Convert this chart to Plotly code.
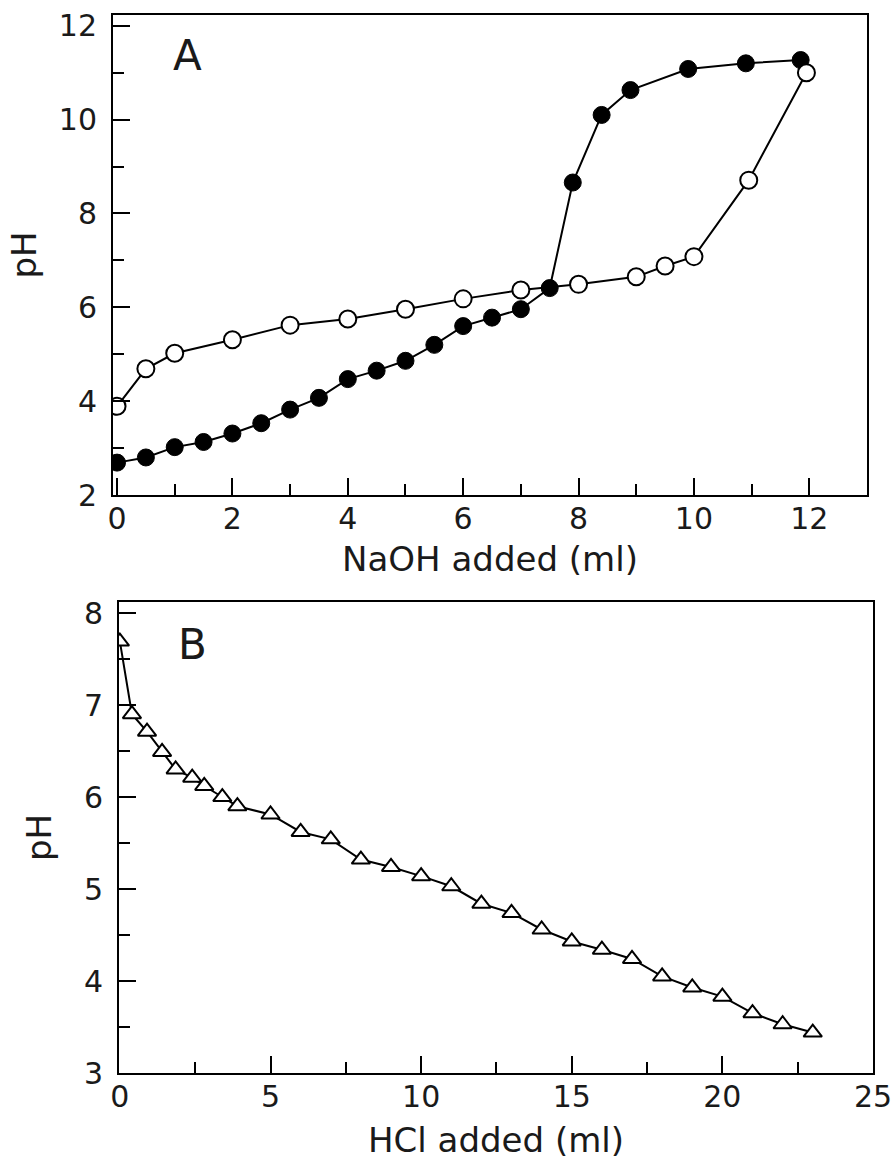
import plotly.graph_objects as go

# Panel A: NaOH titration
naoh_filled_x = [0, 0.5, 1, 1.5, 2, 2.5, 3, 3.5, 4, 4.5, 5, 5.5, 6, 6.5, 7, 7.5, 7.9, 8.4, 8.9, 9.9, 10.9, 11.85]
naoh_filled_ph = [2.69, 2.8, 3.02, 3.13, 3.31, 3.53, 3.82, 4.07, 4.47, 4.65, 4.86, 5.2, 5.6, 5.78, 5.96, 6.41, 8.66, 10.1, 10.63, 11.08, 11.2, 11.27]
naoh_open_x = [0, 0.5, 1, 2, 3, 4, 5, 6, 7, 8, 9, 9.5, 10, 10.95, 11.95]
naoh_open_ph = [3.89, 4.69, 5.02, 5.31, 5.62, 5.75, 5.96, 6.18, 6.37, 6.49, 6.65, 6.88, 7.08, 8.71, 11.0]

# Panel B: HCl titration
hcl_x = [0, 0.4, 0.9, 1.4, 1.85, 2.4, 2.8, 3.4, 3.9, 5, 6, 7, 8, 9, 10, 11, 12, 13, 14, 15, 16, 17, 18, 19, 20, 21, 22, 23]
hcl_ph = [7.69, 6.9, 6.71, 6.49, 6.3, 6.21, 6.12, 6.0, 5.9, 5.81, 5.62, 5.54, 5.32, 5.24, 5.14, 5.03, 4.84, 4.74, 4.56, 4.43, 4.34, 4.24, 4.05, 3.93, 3.83, 3.65, 3.53, 3.44]

W, H = 891, 1160
FONT = "DejaVu Sans"
TXT = "#1a1a1a"

fig = go.Figure()
fig.add_trace(go.Scatter(x=naoh_filled_x, y=naoh_filled_ph, mode="lines+markers", xaxis="x", yaxis="y",
                         line=dict(color="black", width=2),
                         marker=dict(symbol="circle", size=17, color="black", line=dict(color="black", width=1))))
fig.add_trace(go.Scatter(x=naoh_open_x, y=naoh_open_ph, mode="lines+markers", xaxis="x", yaxis="y",
                         line=dict(color="black", width=2),
                         marker=dict(symbol="circle", size=17, color="white", line=dict(color="black", width=2))))
fig.add_trace(go.Scatter(x=hcl_x, y=hcl_ph, mode="lines+markers", xaxis="x2", yaxis="y2",
                         line=dict(color="black", width=2),
                         marker=dict(symbol="triangle-up", size=16, color="white", line=dict(color="black", width=2))))

axis_common = dict(showline=True, linecolor="black", linewidth=2, mirror=True, ticks="inside",
                   tickcolor="black", tickwidth=2, ticklen=17, showgrid=False, zeroline=False,
                   automargin=False, ticklabeloverflow="allow",
                   tickfont=dict(family=FONT, size=30, color=TXT))

def px_dom(a, b, total, flip=False):
    if flip:
        return [1 - b / total, 1 - a / total]
    return [a / total, b / total]

title_font = dict(family=FONT, size=34, color=TXT)
minor_common = dict(ticks="inside", ticklen=11, tickwidth=2, tickcolor="black")

fig.update_layout(
    width=W, height=H, margin=dict(l=0, r=0, t=0, b=0, autoexpand=False),
    paper_bgcolor="white", plot_bgcolor="white", showlegend=False,
    font=dict(family=FONT, color=TXT),
    xaxis=dict(axis_common, domain=px_dom(113, 867, W), range=[-0.07, 13.0], dtick=2, tick0=0,
               minor=dict(minor_common, dtick=1), ticklabelstandoff=-4,
               title=dict(text="NaOH added (ml)", font=title_font, standoff=12),
               anchor="y"),
    yaxis=dict(axis_common, domain=px_dom(15, 495, H, flip=True), range=[2, 12.23], dtick=2, tick0=0,
               minor=dict(minor_common, dtick=1), ticklabelstandoff=8,
               title=dict(text="pH", font=title_font, standoff=12),
               anchor="x"),
    xaxis2=dict(axis_common, domain=px_dom(119, 873, W), range=[-0.03, 25], dtick=5, tick0=0,
                minor=dict(minor_common, dtick=2.5), ticklabelstandoff=-4,
                title=dict(text="HCl added (ml)", font=title_font, standoff=26),
                anchor="y2"),
    yaxis2=dict(axis_common, domain=px_dom(602, 1073, H, flip=True), range=[3, 8.12], dtick=1, tick0=0,
                minor=dict(minor_common, dtick=0.5), ticklabelstandoff=8,
                title=dict(text="pH", font=title_font, standoff=22),
                anchor="x2"),
    annotations=[
        dict(text="A", x=187 / W, y=1 - 55 / H, xref="paper", yref="paper", showarrow=False,
             xanchor="center", yanchor="middle", font=dict(family=FONT, size=42, color=TXT)),
        dict(text="B", x=192 / W, y=1 - 644 / H, xref="paper", yref="paper", showarrow=False,
             xanchor="center", yanchor="middle", font=dict(family=FONT, size=42, color=TXT)),
    ],
)

fig.write_html("out.html", config={"displayModeBar": False},
               post_script="document.body.style.margin='0';document.body.style.overflow='hidden';")
